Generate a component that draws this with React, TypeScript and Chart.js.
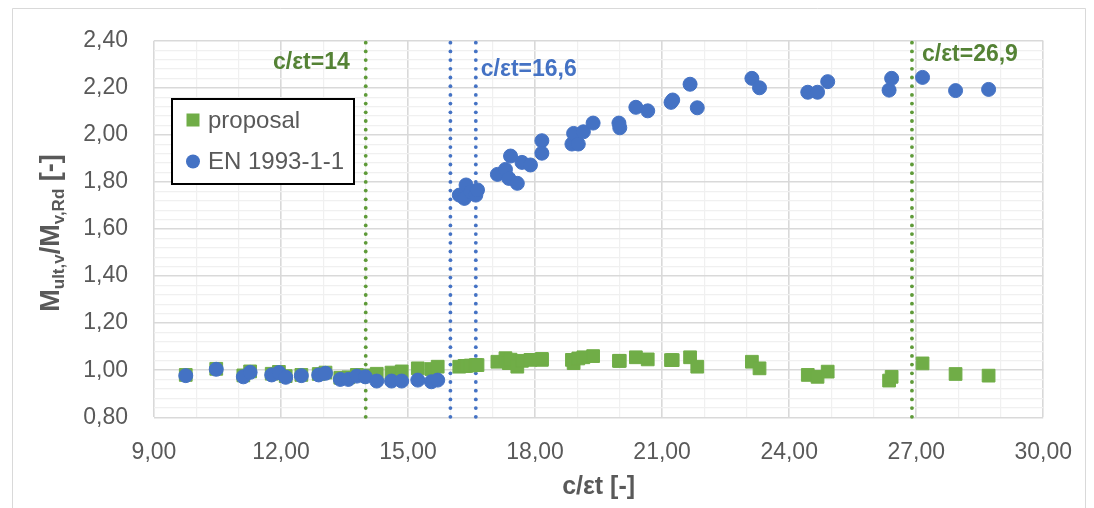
import { useEffect, useRef } from 'react';
import { Chart, registerables } from 'chart.js';

Chart.register(...registerables);

// c/εt values (shared by both series)
const xValues = [
  9.75, 10.47, 11.11, 11.27, 11.78, 11.95, 12.11, 12.48, 12.89, 13.05,
  13.40, 13.59, 13.79, 13.99, 14.26, 14.61, 14.85, 15.23, 15.55, 15.70,
  16.21, 16.33, 16.37, 16.48, 16.60, 16.64, 17.11, 17.30, 17.38, 17.42,
  17.58, 17.69, 17.89, 18.16, 18.16, 18.87, 18.91, 19.02, 19.14, 19.37,
  19.98, 20.00, 20.38, 20.66, 21.21, 21.25, 21.66, 21.83, 23.12, 23.30,
  24.44, 24.67, 24.91, 26.36, 26.42, 27.15, 27.93, 28.71,
];

const proposalValues = [
  0.980, 1.006, 0.978, 0.995, 0.985, 0.993, 0.975, 0.980, 0.984, 0.990,
  0.968, 0.970, 0.980, 0.978, 0.985, 0.990, 0.995, 1.008, 1.005, 1.015,
  1.015, 1.018, 1.018, 1.020, 1.022, 1.022, 1.036, 1.051, 1.030, 1.045,
  1.015, 1.040, 1.044, 1.044, 1.048, 1.044, 1.030, 1.050, 1.055, 1.060,
  1.040, 1.040, 1.055, 1.046, 1.043, 1.043, 1.055, 1.015, 1.036, 1.008,
  0.980, 0.972, 0.994, 0.956, 0.972, 1.029, 0.984, 0.977,
];

const en1993Values = [
  0.977, 1.004, 0.972, 0.991, 0.980, 0.990, 0.970, 0.977, 0.980, 0.987,
  0.961, 0.961, 0.975, 0.972, 0.954, 0.954, 0.954, 0.958, 0.951, 0.958,
  1.744, 1.730, 1.787, 1.758, 1.744, 1.766, 1.832, 1.853, 1.815, 1.910,
  1.794, 1.883, 1.872, 1.975, 1.922, 1.961, 2.006, 1.961, 2.013, 2.050,
  2.050, 2.030, 2.117, 2.102, 2.138, 2.148, 2.215, 2.115, 2.240, 2.200,
  2.181, 2.181, 2.226, 2.190, 2.240, 2.244, 2.188, 2.193,
];

const limitGreen = [14, 26.9];
const limitBlue = [16, 16.6];
const limitLabels = ['c/εt=14', 'c/εt=16,6', 'c/εt=26,9'];
const limitLabelY = [2.305, 2.275, 2.34];

const xTickLabels = ['9,00', '12,00', '15,00', '18,00', '21,00', '24,00', '27,00', '30,00'];
const yTickLabels = ['0,80', '1,00', '1,20', '1,40', '1,60', '1,80', '2,00', '2,20', '2,40'];

const W = 1094;
const H = 508;
const GREEN = '#70AD47';
const DOT_GREEN = '#5E9A38';
const DARK_GREEN = '#548235';
const BLUE = '#4472C4';
const GRAY_TEXT = '#595959';
const FONT = '"Liberation Sans", Arial, sans-serif';

const isMult = (v: number, step: number, base: number) => {
  const r = (v - base) / step;
  return Math.abs(r - Math.round(r)) < 1e-6;
};

const decor = {
  id: 'decor',
  beforeDraw(chart: any) {
    const ctx = chart.ctx;
    ctx.save();
    ctx.fillStyle = '#ffffff';
    ctx.fillRect(0, 0, W, H);
    ctx.strokeStyle = '#d9d9d9';
    ctx.lineWidth = 1;
    ctx.beginPath();
    ctx.moveTo(12.5, H);
    ctx.lineTo(12.5, 8.5);
    ctx.lineTo(1085.5, 8.5);
    ctx.lineTo(1085.5, H);
    ctx.stroke();
    ctx.restore();
  },
  beforeDatasetsDraw(chart: any) {
    const ctx = chart.ctx;
    const xs = chart.scales.x;
    const ys = chart.scales.y;
    const top = ys.getPixelForValue(2.4);
    const bottom = ys.getPixelForValue(0.8);
    const drawDots = (v: number, color: string) => {
      const px = xs.getPixelForValue(v);
      ctx.fillStyle = color;
      for (let y = top + 2; y <= bottom; y += 8.7) {
        ctx.beginPath();
        ctx.arc(px, y, 1.9, 0, Math.PI * 2);
        ctx.fill();
      }
    };
    ctx.save();
    limitGreen.forEach((v) => drawDots(v, DOT_GREEN));
    limitBlue.forEach((v) => drawDots(v, BLUE));
    ctx.restore();
  },
  afterDraw(chart: any) {
    const ctx = chart.ctx;
    const xs = chart.scales.x;
    const ys = chart.scales.y;
    ctx.save();

    // limit labels
    ctx.font = `bold 23px ${FONT}`;
    ctx.textBaseline = 'middle';
    ctx.fillStyle = DARK_GREEN;
    ctx.textAlign = 'right';
    ctx.fillText(limitLabels[0], xs.getPixelForValue(limitGreen[0]) - 16, ys.getPixelForValue(limitLabelY[0]));
    ctx.fillStyle = BLUE;
    ctx.textAlign = 'left';
    ctx.fillText(limitLabels[1], xs.getPixelForValue(limitBlue[1]) + 5, ys.getPixelForValue(limitLabelY[1]));
    ctx.fillStyle = DARK_GREEN;
    ctx.fillText(limitLabels[2], xs.getPixelForValue(limitGreen[1]) + 10, ys.getPixelForValue(limitLabelY[2]));

    // legend
    ctx.fillStyle = '#ffffff';
    ctx.fillRect(172, 99, 182, 85);
    ctx.strokeStyle = '#000000';
    ctx.lineWidth = 2;
    ctx.strokeRect(172, 99, 182, 85);
    ctx.fillStyle = GREEN;
    ctx.fillRect(186.5, 113.5, 13, 13);
    ctx.fillStyle = BLUE;
    ctx.beginPath();
    ctx.arc(193, 161.5, 7, 0, Math.PI * 2);
    ctx.fill();
    ctx.fillStyle = GRAY_TEXT;
    ctx.font = `24px ${FONT}`;
    ctx.textAlign = 'left';
    ctx.textBaseline = 'middle';
    ctx.fillText('proposal', 208, 121);
    ctx.fillText('EN 1993-1-1', 208, 162);

    // x axis title
    ctx.font = `bold 25px ${FONT}`;
    ctx.textAlign = 'center';
    ctx.fillText('c/εt [-]', (xs.left + xs.right) / 2, 487);

    // y axis title with subscripts
    const parts = [
      { t: 'M', sub: false },
      { t: 'ult,v', sub: true },
      { t: '/M', sub: false },
      { t: 'v,Rd', sub: true },
      { t: ' [-]', sub: false },
    ];
    const mainFont = `bold 27px ${FONT}`;
    const subFont = `bold 17px ${FONT}`;
    let total = 0;
    const widths = parts.map((p) => {
      ctx.font = p.sub ? subFont : mainFont;
      const w = ctx.measureText(p.t).width;
      total += w;
      return w;
    });
    ctx.translate(49, (ys.top + ys.bottom) / 2 + 4);
    ctx.rotate(-Math.PI / 2);
    ctx.textAlign = 'left';
    ctx.textBaseline = 'alphabetic';
    let cx = -total / 2;
    parts.forEach((p, i) => {
      ctx.font = p.sub ? subFont : mainFont;
      ctx.fillText(p.t, cx, p.sub ? 15 : 10);
      cx += widths[i];
    });
    ctx.restore();
  },
};

export default function App() {
  const ref = useRef<HTMLCanvasElement | null>(null);

  useEffect(() => {
    if (!ref.current) return;
    const pts = (ys: number[]) => xValues.map((x, i) => ({ x, y: ys[i] }));
    const chart = new Chart(ref.current, {
      type: 'scatter',
      data: {
        datasets: [
          {
            label: 'EN 1993-1-1',
            data: pts(en1993Values),
            backgroundColor: BLUE,
            borderColor: BLUE,
            pointStyle: 'circle',
            pointRadius: 7,
            borderWidth: 1,
            order: 0,
          },
          {
            label: 'proposal',
            data: pts(proposalValues),
            backgroundColor: GREEN,
            borderColor: GREEN,
            pointStyle: 'rect',
            pointRadius: 9,
            borderWidth: 1,
            order: 1,
          },
        ] as any,
      },
      options: {
        responsive: false,
        animation: false,
        devicePixelRatio: 1,
        layout: { padding: { left: 0, top: 40.7, right: 44, bottom: 0 } },
        plugins: { legend: { display: false }, tooltip: { enabled: false } },
        scales: {
          x: {
            type: 'linear',
            min: 9,
            max: 30,
            afterFit: (s: any) => { s.height = H - 417.3; },
            ticks: {
              stepSize: 1,
              autoSkip: false,
              maxRotation: 0,
              padding: 22,
              color: GRAY_TEXT,
              font: { family: FONT, size: 23 },
              callback: (v: any) => (isMult(Number(v), 3, 9) ? xTickLabels[Math.round((Number(v) - 9) / 3)] : ''),
            },
            grid: {
              drawTicks: false,
              color: (c: any) => (isMult(c.tick.value, 3, 9) ? '#d9d9d9' : '#f0f0f0'),
              lineWidth: (c: any) => (isMult(c.tick.value, 3, 9) ? 1.6 : 1.2),
            },
            border: { display: false },
          },
          y: {
            type: 'linear',
            min: 0.8,
            max: 2.4,
            afterFit: (s: any) => { s.width = 154; },
            ticks: {
              stepSize: 0.04,
              autoSkip: false,
              padding: 26,
              color: GRAY_TEXT,
              font: { family: FONT, size: 23 },
              callback: (v: any) => (isMult(Number(v), 0.2, 0.8) ? yTickLabels[Math.round((Number(v) - 0.8) / 0.2)] : ''),
            },
            grid: {
              drawTicks: false,
              color: (c: any) => (isMult(c.tick.value, 0.2, 0.8) ? '#d9d9d9' : '#f0f0f0'),
              lineWidth: (c: any) => (isMult(c.tick.value, 0.2, 0.8) ? 1.6 : 1.2),
            },
            border: { display: false },
          },
        },
      },
      plugins: [decor],
    } as any);
    return () => chart.destroy();
  }, []);

  return (
    <div style={{ position: 'absolute', left: 0, top: 0, width: W, height: H }}>
      <canvas ref={ref} width={W} height={H} style={{ display: 'block', width: W, height: H }} />
    </div>
  );
}
